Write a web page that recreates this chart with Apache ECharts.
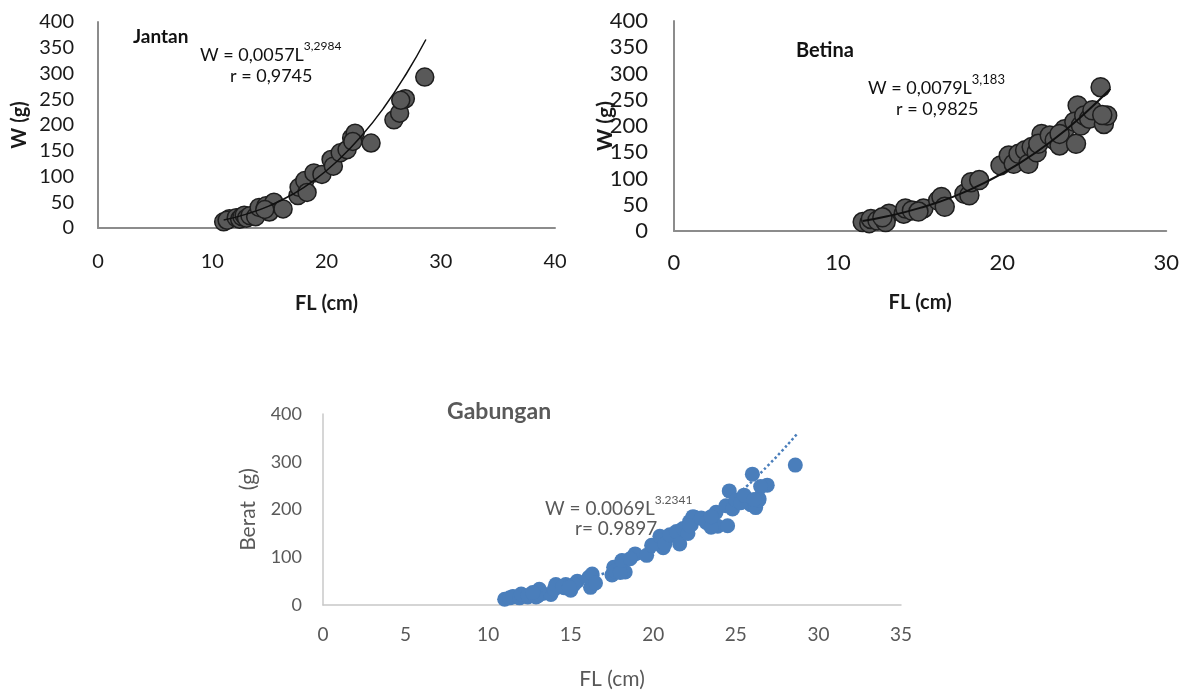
<!DOCTYPE html>
<html>
<head>
<meta charset="utf-8">
<script src="https://cdn.jsdelivr.net/npm/echarts@6/dist/echarts.min.js"></script>
<style>
html,body{margin:0;padding:0;background:#fff;}
#c{width:1182px;height:691px;}
</style>
</head>
<body>
<div id="c"></div>
<script>
// ---- Data ----
// Jantan (male): [FL cm, W g]
const jantanPoints = [
  [11.0,12],[11.5,18],[11.3,15],[12.1,20],[12.4,17],[12.6,22],[12.8,25],[13.0,19],[13.3,24],[13.8,22],
  [14.1,40],[14.7,43],[15.4,50],[15.0,31],[14.6,36],[16.2,37],
  [17.5,63],[17.6,79],[18.1,92],[18.3,69],[18.9,107],[19.6,104],
  [20.4,133],[20.6,120],[21.2,146],[21.8,152],[22.2,175],[22.5,184],[22.3,168],
  [23.9,165],[25.9,210],[26.4,223],[26.9,251],[26.5,248],[28.6,293]
];
const jantanTrend = [[11.0,15.5],[13,27],[15,43],[17,65],[19,94],[21,131],[23,177],[25,233],[27,300],[28.7,366]];

// Betina (female): [FL cm, W g]
const betinaPoints = [
  [11.5,17],[11.9,15],[12.0,23],[12.4,20],[13.1,33],[12.9,17],[12.7,26],
  [14.0,33],[14.1,43],[14.5,39],[15.2,43],[14.9,37],
  [16.1,58],[16.3,65],[16.5,46],[17.7,71],[18.0,68],[18.1,93],[18.6,97],
  [19.9,125],[20.4,144],[20.7,128],[21.0,147],[21.4,154],[21.6,128],[21.8,160],[22.1,150],
  [22.4,185],[22.2,166],[22.9,182],[23.2,173],[23.5,163],[23.8,194],[23.5,185],
  [24.5,166],[24.6,239],[24.4,208],[24.8,201],[25.0,220],[25.3,214],[25.5,230],
  [26.0,274],[26.2,204],[26.4,220],[26.1,221]
];
const betinaTrend = [[11.5,19],[13,28],[15,44],[17,65],[19,93],[21,128],[23,171],[25,223],[26.6,271]];

// Gabungan (combined)
const gabunganPoints = jantanPoints.concat(betinaPoints);
const gabunganTrend = [[11.0,16],[13,28],[15,44],[17,66],[19,94],[21,130],[23,175],[25,229],[27,294],[28.7,358]];

// Tick settings
const jantanX = {min:0,max:40,interval:10};
const jantanY = {min:0,max:400,interval:50};
const betinaX = {min:0,max:30,interval:10};
const betinaY = {min:0,max:400,interval:50};
const gabX = {min:0,max:35,interval:5};
const gabY = {min:0,max:400,interval:100};

// ---- Chart ----
const chart = echarts.init(document.getElementById('c'), null, {renderer:'canvas'});
const F = 'Lato, "Open Sans", sans-serif';
const darkAxis = {show:true, lineStyle:{color:'#8c8c8c', width:2}};
const lightAxis = {show:true, lineStyle:{color:'#c8c8c8', width:1.5}};

function xAxisCfg(idx, s, axisLine, labelStyle, name, nameStyle, nameGap){
  return {type:'value', gridIndex:idx, min:s.min, max:s.max, interval:s.interval,
    axisLine:axisLine, axisTick:{show:false}, splitLine:{show:false},
    axisLabel:labelStyle, name:name, nameLocation:'middle', nameGap:nameGap, nameTextStyle:nameStyle,
    nameMoveOverlap:false};
}
function yAxisCfg(idx, s, axisLine, labelStyle, name, nameStyle, nameGap){
  return {type:'value', gridIndex:idx, min:s.min, max:s.max, interval:s.interval,
    axisLine:axisLine, axisTick:{show:false}, splitLine:{show:false},
    axisLabel:labelStyle, name:name, nameLocation:'middle', nameGap:nameGap, nameRotate:90, nameTextStyle:nameStyle,
    nameMoveOverlap:false};
}

const labJ = {fontFamily:F, fontSize:20, color:'#1a1a1a', margin:24};
const labJx = {fontFamily:F, fontSize:20, color:'#1a1a1a', margin:24};
const labB = {fontFamily:F, fontSize:22, color:'#1a1a1a', margin:26};
const labBx = {fontFamily:F, fontSize:22, color:'#1a1a1a', margin:21};
const labG = {fontFamily:F, fontSize:18, color:'#595959', margin:21};
const labGx = {fontFamily:F, fontSize:19, color:'#595959', margin:20};
const nameBold = {fontFamily:F, fontSize:20, fontWeight:'bold', color:'#1a1a1a'};
const nameGray = {fontFamily:F, fontSize:21, color:'#595959'};

const option = {
  backgroundColor:'#fff',
  animation:false,
  grid:[
    {left:98, top:22, width:457, height:206},
    {left:674, top:21, width:493, height:210},
    {left:323, top:414, width:578, height:199}
  ],
  xAxis:[
    xAxisCfg(0, jantanX, darkAxis, labJx, 'FL (cm)', nameBold, 66),
    xAxisCfg(1, betinaX, darkAxis, labBx, 'FL (cm)', nameBold, 62),
    xAxisCfg(2, gabX, lightAxis, labGx, 'FL (cm)', nameGray, 64)
  ],
  yAxis:[
    yAxisCfg(0, jantanY, darkAxis, labJ, 'W (g)', nameBold, 68),
    yAxisCfg(1, betinaY, darkAxis, labB, 'W (g)', Object.assign({}, nameBold, {fontSize:21}), 58),
    yAxisCfg(2, gabY, lightAxis, labG, 'Berat  (g)', nameGray, 64)
  ],
  series:[
    {type:'scatter', xAxisIndex:0, yAxisIndex:0, data:jantanPoints, symbolSize:18, z:2,
      itemStyle:{color:'#595959', borderColor:'#1e1e1e', borderWidth:1.5, opacity:1}},
    {type:'line', xAxisIndex:0, yAxisIndex:0, data:jantanTrend, smooth:true, showSymbol:false, z:3,
      lineStyle:{color:'#111', width:1.5}},
    {type:'scatter', xAxisIndex:1, yAxisIndex:1, data:betinaPoints, symbolSize:19, z:2,
      itemStyle:{color:'#595959', borderColor:'#1e1e1e', borderWidth:1.5, opacity:1}},
    {type:'line', xAxisIndex:1, yAxisIndex:1, data:betinaTrend, smooth:true, showSymbol:false, z:3,
      lineStyle:{color:'#111', width:2}},
    {type:'line', xAxisIndex:2, yAxisIndex:2, data:gabunganTrend, smooth:true, showSymbol:false, z:1,
      lineStyle:{color:'#4a7ebb', width:2.5, type:'dotted'}},
    {type:'scatter', xAxisIndex:2, yAxisIndex:2, data:gabunganPoints, symbolSize:15, z:2,
      itemStyle:{color:'#4a7ebb', opacity:1}}
  ],
  graphic:[
    {type:'text', left:133, top:27, style:{text:'Jantan', font:'bold 19px '+F, fill:'#111'}},
    {type:'text', left:200, top:40, style:{text:'{a|W = 0,0057L}{b|3,2984}', rich:{
      a:{fontFamily:F, fontSize:18, fill:'#111', color:'#111', lineHeight:24, verticalAlign:'bottom'},
      b:{fontFamily:F, fontSize:12, fill:'#111', color:'#111', lineHeight:24, verticalAlign:'top'}}}},
    {type:'text', left:230, top:67, style:{text:'r = 0,9745', font:'18px '+F, fill:'#111'}},

    {type:'text', left:796, top:41, style:{text:'Betina', font:'bold 20px '+F, fill:'#111'}},
    {type:'text', left:868, top:73, style:{text:'{a|W = 0,0079L}{b|3,183}', rich:{
      a:{fontFamily:F, fontSize:18, fill:'#111', color:'#111', lineHeight:24, verticalAlign:'bottom'},
      b:{fontFamily:F, fontSize:13, fill:'#111', color:'#111', lineHeight:24, verticalAlign:'top'}}}},
    {type:'text', left:896, top:100, style:{text:'r = 0,9825', font:'18px '+F, fill:'#111'}},

    {type:'text', left:447, top:400, style:{text:'Gabungan', font:'bold 23px '+F, fill:'#595959'}},
    {type:'text', left:545, top:494, style:{text:'{a|W = 0.0069L}{b|3.2341}', rich:{
      a:{fontFamily:F, fontSize:19, fill:'#595959', color:'#595959', lineHeight:24, verticalAlign:'bottom'},
      b:{fontFamily:F, fontSize:12, fill:'#595959', color:'#595959', lineHeight:24, verticalAlign:'top'}}}},
    {type:'text', left:575, top:519, style:{text:'r= 0.9897', font:'19px '+F, fill:'#595959'}}
  ]
};
chart.setOption(option);
</script>
</body>
</html>
